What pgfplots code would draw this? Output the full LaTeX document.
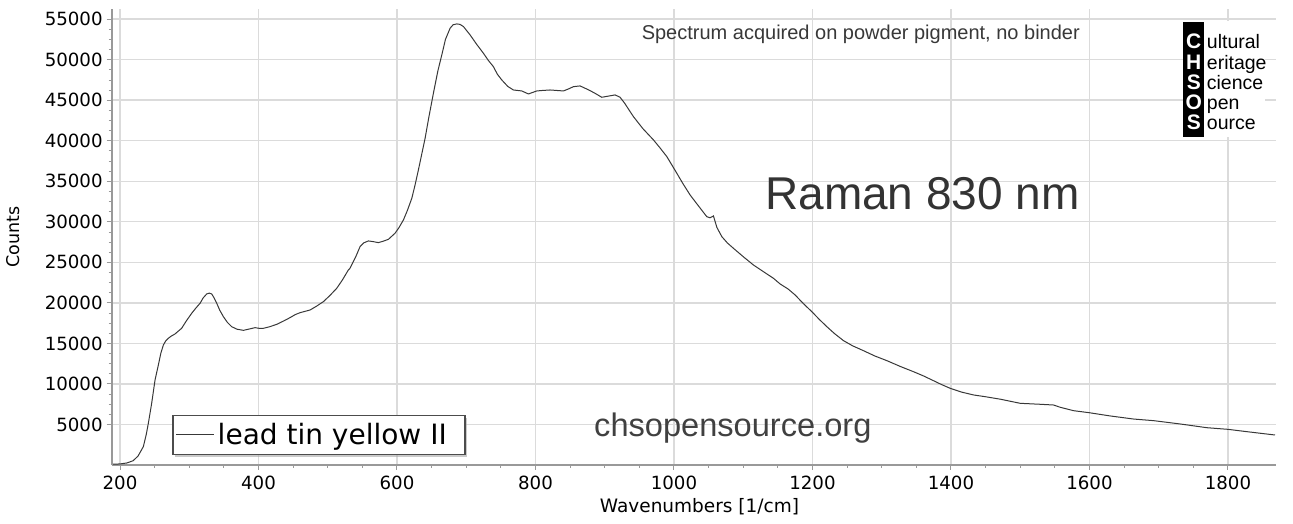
\documentclass[border=0pt]{standalone}
\usepackage{pgfplots}
\pgfplotsset{compat=1.18}
\usetikzlibrary{shadows}
\usepackage{fontspec}
\setmainfont{DejaVu Sans}
\newfontfamily\arial{Liberation Sans}
\makeatletter
\tikzset{nopre/.code={\def\tikz@preactions{}}}
\makeatother
\begin{document}
\begin{tikzpicture}[x=1pt,y=1pt]
\path[use as bounding box] (0,0) rectangle (1293,524);
\begin{axis}[
  at={(111.7pt,59pt)}, anchor=south west,
  scale only axis, width=1164pt, height=456pt,
  xmin=188, xmax=1869, ymin=0, ymax=56250,
  axis x line*=bottom, axis y line*=left,
  axis line style={draw=black!40, line width=2pt},
  xtick={200,400,...,1800}, ytick={5000,10000,...,55000},
  minor x tick num=3, minor y tick num=3,
  tick align=outside, major tick length=5pt, minor tick length=3pt,
  tick style={draw=black!40, line width=1pt},
  minor tick style={draw=black!40, line width=0.8pt},
  grid=major, major grid style={draw=black!14, line width=1.4pt},
  scaled y ticks=false, scaled x ticks=false,
  /pgf/number format/1000 sep={},
  /pgf/number format/assume math mode=true,
  ticklabel style={font=\fontsize{18.2}{20}\selectfont, text=black},
  yticklabel style={xshift=-0.5pt},
  xticklabel style={yshift=-2pt},
  xlabel={Wavenumbers [1/cm]}, ylabel={Counts},
  xlabel style={at={(axis description cs:0.505,-0.0921)}, anchor=center, font=\fontsize{18.5}{20}\selectfont},
  ylabel style={at={(axis description cs:-0.0848,0.5)}, anchor=center, font=\fontsize{17.5}{20}\selectfont},
  legend style={at={(axis description cs:0.0518,0.0219)}, anchor=south west, draw=black!70, line width=1.5pt, fill=white,
    inner xsep=3pt, inner ysep=4pt,
    drop shadow={shadow xshift=2.5pt, shadow yshift=-2.5pt, fill=black!35, opacity=0.6},
    font=\fontsize{28}{30}\selectfont, nodes={inner xsep=3pt, inner ysep=4pt}},
  legend image code/.code={\draw[nopre, black!55, line width=1pt] (0pt,0pt) -- (32pt,0pt); \path[nopre] (0pt,0pt) -- (38pt,0pt);},
]
\addplot[color=black!78, line width=1pt] coordinates {
(190,100) (200,130) (210,250) (219,530) (226,1100) (233.7,2260) (238,3800) (240.9,5140)
(245.7,7600) (250.6,10490) (255.4,12340) (259,13800) (262.6,14800) (266,15300) (269.8,15630)
(274,15900) (279.4,16160) (284,16500) (289,16860) (296,17800) (303.5,18710) (309,19300)
(315.6,19950) (320,20600) (325.2,21100) (329,21200) (332.4,21100) (336,20600) (339.7,19950)
(344,19100) (349.3,18300) (355,17600) (361.3,17060) (369,16750) (378.2,16610) (387,16780)
(395,16940) (401,16860) (407,16860) (416,17050) (426.3,17350) (436,17750) (445.6,18180)
(453,18550) (460,18790) (474.5,19120) (484,19600) (493.7,20150) (503,20900) (513,21800)
(521,22800) (529.8,24060) (532.2,24270) (540,25600) (546.7,26940) (552,27400) (558.7,27640)
(566,27550) (573.1,27430) (580,27600) (587.6,27840) (597.2,28590) (603,29300) (609.3,30230)
(615,31400) (621.4,32900) (626,34500) (630.9,36390) (640.6,40300) (646,42900) (652.6,45860)
(659,48600) (664.7,50580) (670,52500) (676.7,53880) (681,54300) (686.3,54410) (691,54350)
(696,54080) (705.6,53050) (715,51900) (724.8,50790) (732,49900) (739.2,49140) (745,48200)
(751.3,47500) (760,46700) (768.1,46260) (780.2,46140) (789.8,45770) (801.9,46140) (810,46200)
(821.1,46260) (840.4,46140) (848,46400) (854.8,46670) (864.4,46760) (871,46500) (878.9,46180)
(887,45800) (895.7,45360) (905,45500) (915,45650) (922.2,45360) (929,44600) (936.7,43590)
(941.5,42970) (955,41500) (970.4,40100) (980,39100) (989.7,38040) (1004.1,35990) (1013,34700)
(1023.3,33310) (1035,32000) (1047.4,30630) (1052,30500) (1057,30720) (1062,29300) (1069.1,28170)
(1077,27400) (1085.9,26730) (1100,25700) (1114.8,24670) (1130,23800) (1143.7,23030) (1153.3,22330)
(1165,21700) (1175,20970) (1187,19900) (1199.1,18910) (1210,17950) (1220.8,17060) (1232,16200)
(1244.8,15340) (1258,14700) (1273.7,14100) (1290,13450) (1307.5,12870) (1327,12150) (1345.9,11510)
(1360,11000) (1374.8,10400) (1387,9900) (1398.9,9460) (1415,9000) (1432.6,8640) (1450,8420)
(1471.1,8120) (1500,7610) (1528.9,7490) (1548.1,7400) (1557.8,7120) (1577,6700) (1599.7,6450)
(1630,6050) (1663.7,5670) (1692.6,5470) (1731.1,5060) (1769.7,4600) (1800,4400) (1827.5,4110)
(1868,3700)
};
\addlegendentry{lead tin yellow II\kern 12pt}
\end{axis}
\fill[white] (1183,387) rectangle (1265,502.5);
\fill[black] (1183.3,387.3) rectangle (1204.3,502.3);
\foreach \L/\R/\Y in {C/ultural/475.8, H/eritage/454.8, S/cience/434.8, O/pen/414.2, S/ource/394.2} {
  \node[anchor=base, text=white, font=\arial\bfseries\fontsize{21}{21}\selectfont, inner sep=0pt] at (1193.8,\Y) {\L};
  \node[anchor=base west, font=\arial\fontsize{19.5}{20}\selectfont, inner sep=0pt] at (1206.7,\Y) {\R};
}
\node[anchor=base east, inner sep=0pt, font=\arial\fontsize{20}{22}\selectfont, text=black!78] at (1080,484.5) {Spectrum acquired on powder pigment, no binder};
\node[anchor=base east, inner sep=0pt, font=\arial\fontsize{46}{50}\selectfont, text=black!80] at (1080,314) {Raman 830 nm};
\node[anchor=base west, inner sep=0pt, font=\arial\fontsize{32.6}{36}\selectfont, text=black!75] at (594,87) {chsopensource.org};
\end{tikzpicture}
\end{document}
